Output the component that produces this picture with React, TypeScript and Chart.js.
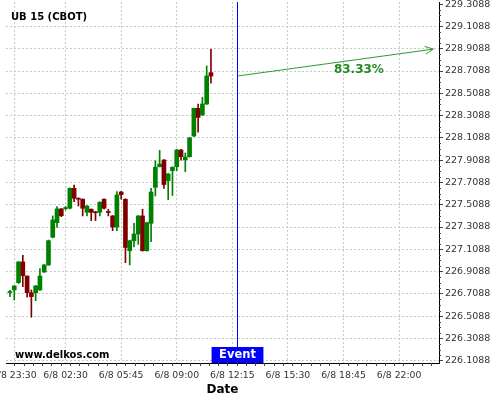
import React, { useEffect, useRef } from 'react';
import { Chart, registerables } from 'chart.js';

Chart.register(...registerables);

const symbolTitle = 'UB 15 (CBOT)';
const watermark = 'www.delkos.com';
const xAxisTitle = 'Date';

const candleTimes = [
  '6/7 23:15', '6/7 23:30', '6/7 23:45', '6/8 00:00', '6/8 00:15', '6/8 00:30', '6/8 00:45', '6/8 01:00',
  '6/8 01:15', '6/8 01:30', '6/8 01:45', '6/8 02:00', '6/8 02:15', '6/8 02:30', '6/8 02:45', '6/8 03:00',
  '6/8 03:15', '6/8 03:30', '6/8 03:45', '6/8 04:00', '6/8 04:15', '6/8 04:30', '6/8 04:45', '6/8 05:00',
  '6/8 05:15', '6/8 05:30', '6/8 05:45', '6/8 06:00', '6/8 06:15', '6/8 06:30', '6/8 06:45', '6/8 07:00',
  '6/8 07:15', '6/8 07:30', '6/8 07:45', '6/8 08:00', '6/8 08:15', '6/8 08:30', '6/8 08:45', '6/8 09:00',
  '6/8 09:15', '6/8 09:30', '6/8 09:45', '6/8 10:00', '6/8 10:15', '6/8 10:30', '6/8 10:45', '6/8 11:00',
];

const openPrices = [
  226.721, 226.744, 226.809, 226.995, 226.869, 226.719, 226.719, 226.744,
  226.905, 226.968, 227.217, 227.348, 227.471, 227.474, 227.477, 227.656,
  227.567, 227.558, 227.441, 227.468, 227.444, 227.441, 227.558, 227.444,
  227.408, 227.309, 227.623, 227.558, 227.096, 227.186, 227.246, 227.408,
  227.096, 227.342, 227.665, 227.850, 227.910, 227.725, 227.814, 227.850,
  228.000, 227.913, 227.940, 228.126, 228.374, 228.314, 228.413, 228.694,
];
const highPrices = [
  226.741, 226.784, 226.999, 227.055, 226.869, 226.744, 226.784, 226.935,
  226.973, 227.192, 227.408, 227.491, 227.475, 227.493, 227.661, 227.686,
  227.571, 227.562, 227.502, 227.472, 227.448, 227.535, 227.562, 227.468,
  227.412, 227.626, 227.628, 227.562, 227.191, 227.342, 227.412, 227.468,
  227.352, 227.656, 227.904, 227.996, 227.915, 227.789, 227.849, 228.005,
  228.005, 227.973, 228.114, 228.377, 228.413, 228.473, 228.754, 228.904,
];
const lowPrices = [
  226.684, 226.654, 226.802, 226.773, 226.678, 226.499, 226.648, 226.739,
  226.901, 226.964, 227.212, 227.306, 227.401, 227.462, 227.472, 227.536,
  227.497, 227.408, 227.408, 227.366, 227.366, 227.408, 227.472, 227.408,
  227.276, 227.276, 227.558, 226.989, 226.968, 227.130, 227.152, 227.092,
  227.092, 227.177, 227.587, 227.847, 227.656, 227.554, 227.592, 227.814,
  227.908, 227.805, 227.935, 228.119, 228.160, 228.310, 228.408, 228.599,
];
const closePrices = [
  226.726, 226.780, 226.995, 226.872, 226.719, 226.684, 226.780, 226.869,
  226.968, 227.186, 227.372, 227.471, 227.410, 227.480, 227.656, 227.567,
  227.558, 227.477, 227.497, 227.441, 227.437, 227.531, 227.477, 227.439,
  227.309, 227.596, 227.599, 227.125, 227.186, 227.246, 227.408, 227.096,
  227.348, 227.623, 227.845, 227.874, 227.690, 227.785, 227.845, 228.000,
  227.940, 227.937, 228.108, 228.374, 228.292, 228.413, 228.664, 228.664,
];

const yTickValues = [
  226.1088, 226.3088, 226.5088, 226.7088, 226.9088, 227.1088, 227.3088, 227.5088, 227.7088,
  227.9088, 228.1088, 228.3088, 228.5088, 228.7088, 228.9088, 229.1088, 229.3088,
];
const yRange = [226.0882, 229.3282];

const xTickTimes = ['6/7 23:30', '6/8 02:30', '6/8 05:45', '6/8 09:00', '6/8 12:15', '6/8 15:30', '6/8 18:45', '6/8 22:00'];
const xTickLabels = ['6/8 23:30', '6/8 02:30', '6/8 05:45', '6/8 09:00', '6/8 12:15', '6/8 15:30', '6/8 18:45', '6/8 22:00'];
const xRange = ['6/7 23:01', '6/9 00:20'];
const xMinorStepMinutes = 32.5;

const eventTime = '6/8 12:30';
const eventLabel = 'Event';
const forecastEndTime = '6/9 00:00';
const forecastEndPrice = 228.905;
const forecastProbability = '83.33%';

const FONT = '"DejaVu Sans", sans-serif';
const UP = '#008000';
const DOWN = '#800000';
const GRID = '#c8c8c8';

function toMinutes(s: string): number {
  const [md, hm] = s.split(' ');
  const [, d] = md.split('/').map(Number);
  const [h, m] = hm.split(':').map(Number);
  return (d - 7) * 1440 + h * 60 + m;
}

const overlayPlugin = {
  id: 'overlay',
  afterDatasetsDraw(chart: any) {
    const { ctx, chartArea: a, scales } = chart;
    const x = scales.x;
    const y = scales.y;
    ctx.save();

    // minor ticks on the y axis
    ctx.strokeStyle = '#444';
    ctx.lineWidth = 1;
    ctx.beginPath();
    for (let i = 0; i < yTickValues.length - 1; i++) {
      for (let k = 1; k < 4; k++) {
        const v = yTickValues[i] + ((yTickValues[i + 1] - yTickValues[i]) * k) / 4;
        const py = Math.round(y.getPixelForValue(v)) + 0.5;
        ctx.moveTo(a.right, py);
        ctx.lineTo(a.right + 2, py);
      }
    }
    // minor ticks on the x axis
    const anchor = toMinutes(xTickTimes[0]);
    const xmin = toMinutes(xRange[0]);
    const xmax = toMinutes(xRange[1]);
    let start = anchor;
    while (start - xMinorStepMinutes >= xmin) start -= xMinorStepMinutes;
    for (let t = start; t <= xmax; t += xMinorStepMinutes) {
      const px = Math.round(x.getPixelForValue(t)) + 0.5;
      ctx.moveTo(px, a.bottom);
      ctx.lineTo(px, a.bottom + 3);
    }
    ctx.stroke();

    // event line
    const ex = Math.round(x.getPixelForValue(toMinutes(eventTime))) + 0.5;
    ctx.strokeStyle = '#0000ff';
    ctx.beginPath();
    ctx.moveTo(ex, a.top);
    ctx.lineTo(ex, a.bottom);
    ctx.stroke();

    // event label box
    ctx.font = `bold 11.5px ${FONT}`;
    const tw = ctx.measureText(eventLabel).width;
    const bw = tw + 15;
    const bh = 16;
    ctx.fillStyle = '#0000ff';
    ctx.fillRect(ex - bw / 2, a.bottom - bh, bw, bh);
    ctx.fillStyle = '#ffffff';
    ctx.textAlign = 'center';
    ctx.textBaseline = 'middle';
    ctx.fillText(eventLabel, ex, a.bottom - bh / 2 + 0.5);

    // forecast arrow
    const x0 = ex;
    const y0 = y.getPixelForValue(closePrices[closePrices.length - 1]);
    const x1 = x.getPixelForValue(toMinutes(forecastEndTime));
    const y1 = y.getPixelForValue(forecastEndPrice);
    ctx.strokeStyle = '#2e9a2e';
    ctx.lineWidth = 1;
    ctx.beginPath();
    ctx.moveTo(x0, y0);
    ctx.lineTo(x1, y1);
    const ang = Math.atan2(y1 - y0, x1 - x0);
    const hl = 9;
    ctx.moveTo(x1 - hl * Math.cos(ang - 0.45), y1 - hl * Math.sin(ang - 0.45));
    ctx.lineTo(x1, y1);
    ctx.lineTo(x1 - hl * Math.cos(ang + 0.45), y1 - hl * Math.sin(ang + 0.45));
    ctx.stroke();

    // probability text
    const tt = 0.62;
    ctx.fillStyle = '#228b22';
    ctx.font = `bold 12px ${FONT}`;
    ctx.textAlign = 'center';
    ctx.textBaseline = 'middle';
    ctx.fillText(forecastProbability, x0 + tt * (x1 - x0), y0 + tt * (y1 - y0) + 11);

    // title and watermark
    ctx.fillStyle = '#000000';
    ctx.font = `bold 10px ${FONT}`;
    ctx.textAlign = 'left';
    ctx.textBaseline = 'alphabetic';
    ctx.fillText(symbolTitle, a.left + 5, a.top + 17.5);
    ctx.fillText(watermark, a.left + 9, a.bottom - 5);

    ctx.restore();
  },
};

export default function App() {
  const canvasRef = useRef<HTMLCanvasElement | null>(null);

  useEffect(() => {
    const canvas = canvasRef.current;
    if (!canvas) return;
    const times = candleTimes.map(toMinutes);
    const colors = closePrices.map((c, i) => (c >= openPrices[i] ? UP : DOWN));

    const chart = new Chart(canvas, {
      type: 'bar',
      data: {
        datasets: [
          {
            label: 'body',
            data: times.map((t, i) => ({ x: t, y: [openPrices[i], closePrices[i]] })) as any,
            backgroundColor: colors,
            borderWidth: 0,
            barThickness: 4,
            minBarLength: 1,
            grouped: false,
          } as any,
          {
            label: 'wick',
            data: times.map((t, i) => ({ x: t, y: [lowPrices[i], highPrices[i]] })) as any,
            backgroundColor: colors,
            borderWidth: 0,
            barThickness: 1,
            grouped: false,
          } as any,
        ],
      },
      options: {
        animation: false,
        responsive: false,
        devicePixelRatio: 1,
        layout: { padding: { left: 6, top: 2, right: 0, bottom: 0 } },
        plugins: {
          legend: { display: false },
          tooltip: { enabled: false },
          title: { display: false },
        },
        scales: {
          x: {
            type: 'linear',
            min: toMinutes(xRange[0]),
            max: toMinutes(xRange[1]),
            offset: false,
            grid: {
              offset: false,
              color: GRID,
              lineWidth: 1,
              drawTicks: true,
              tickLength: 3,
              tickColor: 'rgba(0,0,0,0)',
            },
            border: { display: true, color: '#000', width: 1, dash: [2, 2] },
            ticks: {
              autoSkip: false,
              maxRotation: 0,
              minRotation: 0,
              padding: 4.4,
              color: '#333',
              font: { family: FONT, size: 9.3 },
              callback: (v: any) => {
                const idx = xTickTimes.findIndex((t) => toMinutes(t) === Number(v));
                return idx >= 0 ? xTickLabels[idx] : '';
              },
            },
            title: {
              display: true,
              text: xAxisTitle,
              color: '#000',
              font: { family: FONT, size: 12, weight: 'bold' },
              padding: { top: 0, bottom: 3 },
            },
            afterBuildTicks: (s: any) => {
              s.ticks = xTickTimes.map((t) => ({ value: toMinutes(t) }));
            },
            afterFit: (s: any) => {
              s.height = 37;
              s.paddingLeft = 0;
              s.paddingRight = 0;
            },
          } as any,
          y: {
            type: 'linear',
            position: 'right',
            min: yRange[0],
            max: yRange[1],
            grid: {
              color: (c: any) => (c.tick && c.tick.value > 229.2 ? 'rgba(0,0,0,0)' : GRID),
              lineWidth: 1,
              tickLength: 4,
              tickColor: '#444',
            },
            border: { display: true, color: '#000', width: 1, dash: [2, 2] },
            ticks: {
              padding: 2,
              color: '#333',
              font: { family: FONT, size: 9.5 },
              callback: (v: any) => Number(v).toFixed(4),
            },
            afterBuildTicks: (s: any) => {
              s.ticks = yTickValues.map((v) => ({ value: v }));
            },
            afterFit: (s: any) => {
              s.width = 61;
              s.paddingTop = 0;
              s.paddingBottom = 0;
            },
          } as any,
        },
      },
      plugins: [overlayPlugin],
    });

    return () => chart.destroy();
  }, []);

  return (
    <div style={{ position: 'fixed', left: 0, top: 0, width: 500, height: 400, background: '#fff' }}>
      <canvas ref={canvasRef} width={500} height={400} style={{ display: 'block' }} />
    </div>
  );
}
